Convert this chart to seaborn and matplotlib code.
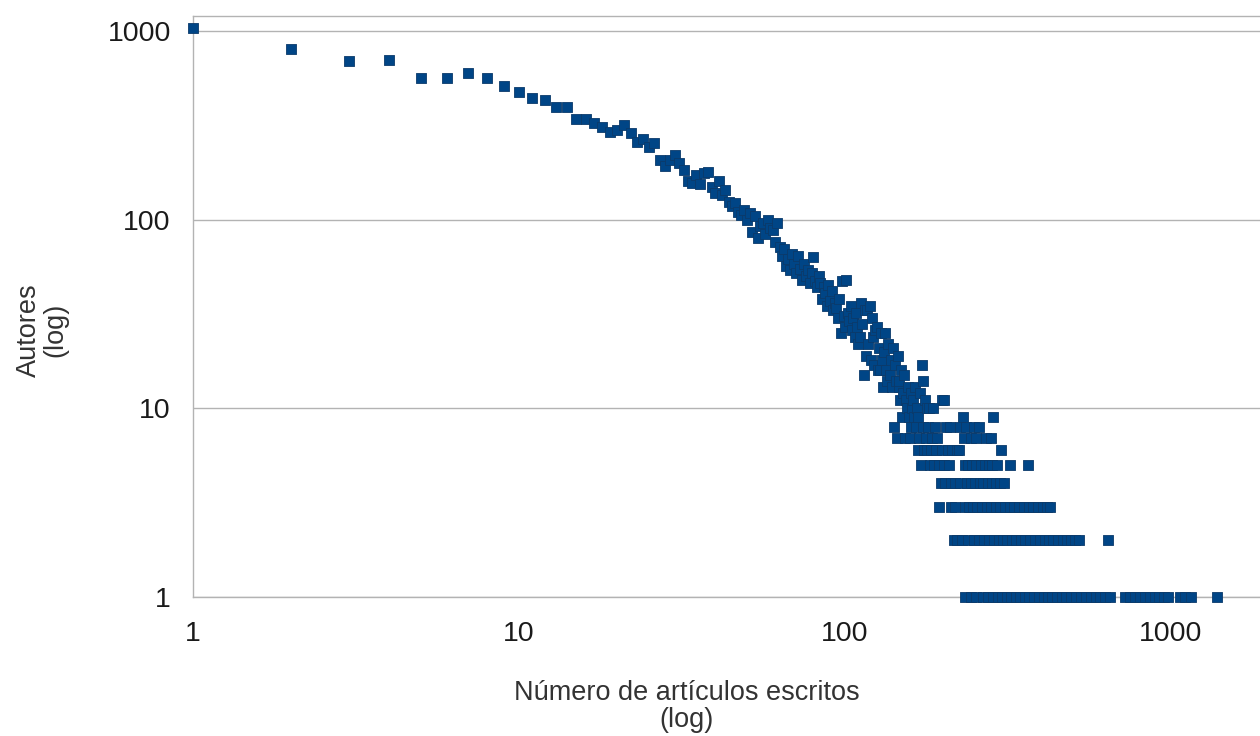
import pandas as pd
import matplotlib
matplotlib.use("Agg")
import matplotlib.pyplot as plt
import seaborn as sns

# numero de articulos (1..169) y autores con ese numero de articulos
articles_head = [
    1, 2, 3, 4, 5, 6, 7, 8, 9, 10, 11, 12, 13, 14, 15, 16, 17, 18, 19, 20,
    21, 22, 23, 24, 25, 26, 27, 28, 29, 30, 31, 32, 33, 34, 35, 36, 37, 38, 39, 40,
    41, 42, 43, 44, 45, 46, 47, 48, 49, 50, 51, 52, 53, 54, 55, 56, 57, 58, 59, 60,
    61, 62, 63, 64, 65, 66, 67, 68, 69, 70, 71, 72, 73, 74, 75, 76, 77, 78, 79, 80,
    81, 82, 83, 84, 85, 86, 87, 88, 89, 90, 91, 92, 93, 94, 95, 96, 97, 98, 99, 100,
    101, 102, 103, 104, 105, 106, 107, 108, 109, 110, 111, 112, 113, 114, 115, 116, 117, 118, 119, 120,
    121, 122, 123, 124, 125, 126, 127, 128, 129, 130, 131, 132, 133, 134, 135, 136, 137, 138, 139, 140,
    141, 142, 143, 144, 145, 146, 147, 148, 149, 150, 151, 152, 153, 154, 155, 156, 157, 158, 159, 160,
    161, 162, 163, 164, 165, 166, 167, 168, 169,
]
authors_head = [
    1030, 800, 695, 700, 560, 560, 600, 560, 512, 475, 441, 432, 396, 395, 342, 340, 325, 310, 290, 300,
    318, 288, 258, 268, 243, 256, 206, 192, 208, 220, 200, 183, 160, 156, 172, 154, 176, 178, 148, 138,
    160, 135, 143, 124, 118, 122, 110, 106, 112, 100, 108, 86, 104, 80, 92, 96, 84, 100, 90, 88,
    76, 96, 72, 64, 70, 57, 62, 54, 66, 58, 52, 64, 55, 48, 58, 50, 54, 46, 52, 63,
    47, 44, 50, 46, 38, 44, 41, 35, 45, 37, 42, 33, 36, 34, 30, 38, 25, 47, 31, 27,
    48, 32, 29, 35, 26, 30, 24, 32, 27, 22, 24, 36, 28, 15, 33, 19, 33, 22, 35, 18,
    30, 24, 17, 26, 27, 16, 21, 16, 25, 18, 13, 20, 25, 16, 14, 22, 15, 18, 13, 21,
    8, 17, 14, 7, 19, 13, 14, 11, 16, 9, 12, 15, 7, 11, 10, 13, 9, 7, 12, 8,
    10, 11, 9, 13, 8, 10, 6, 9, 7,
]

# cola: autores -> numeros de articulos con ese recuento
tail_counts = [17, 14, 12, 11, 10, 9, 8, 7, 6, 5, 4, 3, 2, 1]
tail_articles = [
    [172],
    [173],
    [170],
    [176, 199, 202],
    [178, 181, 186],
    [230, 284],
    [174, 180, 189, 204, 210, 226, 235, 248, 258],
    [177, 185, 191, 232, 244, 252, 270, 280],
    [175, 179, 184, 190, 198, 207, 213, 220, 224, 301],
    [171, 182, 187, 194, 201, 208, 233, 239, 246, 253, 261, 268, 276, 283, 292, 321, 364],
    [197, 203, 211, 218, 225, 237, 243, 251, 259, 266, 274, 282, 291, 299, 307],
    [195, 212, 218, 234, 240, 247, 255, 263, 272, 281, 290, 300, 310, 320, 331, 342,
     354, 366, 378, 391, 404, 417, 425],
    [216, 221, 228, 238, 249, 258, 267, 276, 287, 296, 306, 315, 325, 335, 346, 357,
     370, 383, 396, 410, 422, 436, 450, 465, 480, 494, 508, 522, 641],
    [233, 244, 253, 265, 274, 284, 294, 304, 314, 324, 334, 344, 356, 368, 380, 393,
     407, 420, 433, 447, 462, 478, 494, 512, 530, 549, 568, 588, 608, 629, 650,
     722, 748, 775, 802, 830, 860, 891, 922, 954, 979, 1066, 1105, 1152, 1384],
]

x_ticks = [1, 10, 100, 1000]
x_tick_labels = ["1", "10", "100", "1000"]
y_ticks = [1, 10, 100, 1000]
y_tick_labels = ["1", "10", "100", "1000"]


def build_frame():
    xs = list(articles_head)
    ys = list(authors_head)
    for count, arts in zip(tail_counts, tail_articles):
        xs += arts
        ys += [count] * len(arts)
    return pd.DataFrame({"articulos": xs, "autores": ys})


def plot_chart(df):
    sns.set_theme(style="white")
    plt.rcParams["font.family"] = ["Liberation Sans", "DejaVu Sans"]

    fig = plt.figure(figsize=(12.6, 7.36), dpi=100)
    ax = fig.add_axes([193 / 1260, 1 - 597 / 736, 1067 / 1260, 581.3 / 736])

    sns.scatterplot(data=df, x="articulos", y="autores", marker="s", s=50,
                    color="#004586", edgecolor="#0b3a6a", linewidth=0.6,
                    clip_on=False, zorder=3, ax=ax)

    ax.set_xscale("log")
    ax.set_yscale("log")
    ax.set_xlim(1, 1876)
    ax.set_ylim(1, 1204)
    ax.set_xticks(x_ticks)
    ax.set_xticklabels(x_tick_labels)
    ax.set_yticks(y_ticks)
    ax.set_yticklabels(y_tick_labels)
    ax.minorticks_off()

    ax.yaxis.grid(True, color="#b3b3b3", linewidth=1)
    ax.xaxis.grid(False)
    ax.set_axisbelow(True)
    ax.tick_params(axis="x", direction="out", length=7, width=1, color="#b3b3b3",
                   pad=10, labelsize=20.5, labelcolor="#1a1a1a")
    ax.tick_params(axis="y", direction="out", length=10, width=1, color="#b3b3b3",
                   pad=6, labelsize=20.5, labelcolor="#1a1a1a")
    for side in ["top", "left", "bottom"]:
        ax.spines[side].set_color("#b3b3b3")
        ax.spines[side].set_linewidth(1)
    ax.spines["right"].set_visible(False)

    ax.set_xlabel("")
    ax.set_ylabel("")
    fig.text(687 / 1260, 1 - 700 / 736, "Número de artículos escritos",
             ha="center", va="baseline", fontsize=19.5, color="#333333")
    fig.text(687 / 1260, 1 - 727 / 736, "(log)",
             ha="center", va="baseline", fontsize=19.5, color="#333333")
    fig.text(42 / 1260, 1 - 330 / 736, "Autores\n(log)", rotation=90,
             ha="center", va="center", multialignment="center",
             fontsize=19.5, color="#333333", linespacing=1.05)

    fig.savefig("out.png", dpi=100)
    plt.close(fig)


if __name__ == "__main__":
    plot_chart(build_frame())
